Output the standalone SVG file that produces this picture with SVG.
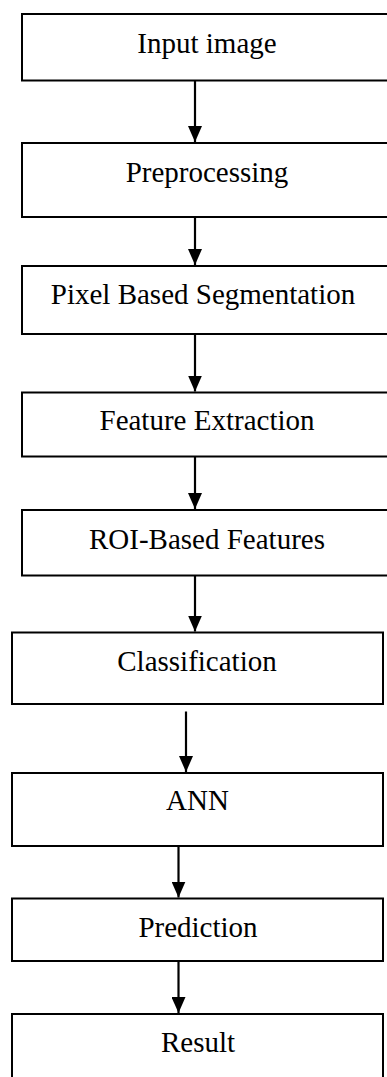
<svg xmlns="http://www.w3.org/2000/svg" width="387" height="1077" viewBox="0 0 387 1077">
  <style>
    .box { fill: #ffffff; stroke: #000000; stroke-width: 2; }
    .label { font-family: "Liberation Serif", "Times New Roman", serif; font-size: 29px; fill: #000000; text-anchor: middle; }
    .flow { stroke: #000000; stroke-width: 2.2; fill: none; marker-end: url(#arrowhead); }
  </style>
  <defs>
    <!-- filled triangular head; tip sits on the line end -->
    <marker id="arrowhead" markerUnits="userSpaceOnUse" markerWidth="16" markerHeight="14" refX="16" refY="7" orient="auto" viewBox="0 0 16 14">
      <path d="M0,0 L16,7 L0,14 Z" fill="#000000"/>
    </marker>
  </defs>

  <rect width="387" height="1077" fill="#ffffff"/>

  <g id="node-input">
    <rect class="box" x="22" y="14" width="380" height="66.5"/>
    <text class="label" x="207" y="52.5">Input image</text>
  </g>
  <g id="node-preprocessing">
    <rect class="box" x="22" y="143" width="380" height="74"/>
    <text class="label" x="207" y="181.5">Preprocessing</text>
  </g>
  <g id="node-segmentation">
    <rect class="box" x="22" y="266" width="380" height="68"/>
    <text class="label" x="203" y="303.5">Pixel Based Segmentation</text>
  </g>
  <g id="node-feature-extraction">
    <rect class="box" x="22" y="392.5" width="380" height="64"/>
    <text class="label" x="207" y="430">Feature Extraction</text>
  </g>
  <g id="node-roi-features">
    <rect class="box" x="22" y="510" width="380" height="65.5"/>
    <text class="label" x="207" y="548.5">ROI-Based Features</text>
  </g>
  <g id="node-classification">
    <rect class="box" x="12" y="632.5" width="371" height="71.5"/>
    <text class="label" x="197" y="671">Classification</text>
  </g>
  <g id="node-ann">
    <rect class="box" x="12" y="773" width="371" height="73"/>
    <text class="label" x="197.5" y="810">ANN</text>
  </g>
  <g id="node-prediction">
    <rect class="box" x="12" y="898.5" width="371" height="62.5"/>
    <text class="label" x="198" y="936.5">Prediction</text>
  </g>
  <g id="node-result">
    <rect class="box" x="12" y="1014" width="371" height="80"/>
    <text class="label" x="198" y="1051.5">Result</text>
  </g>

  <g id="connectors">
    <line class="flow" x1="195" y1="81" x2="195" y2="142"/>
    <line class="flow" x1="195" y1="217.5" x2="195" y2="265"/>
    <line class="flow" x1="195" y1="334.5" x2="195" y2="391.5"/>
    <line class="flow" x1="195" y1="457" x2="195" y2="509"/>
    <line class="flow" x1="195" y1="576" x2="195" y2="631.5"/>
    <line class="flow" x1="186" y1="711.5" x2="186" y2="772"/>
    <line class="flow" x1="178.5" y1="846.5" x2="178.5" y2="897.5"/>
    <line class="flow" x1="178.5" y1="961.5" x2="178.5" y2="1013"/>
  </g>
</svg>
